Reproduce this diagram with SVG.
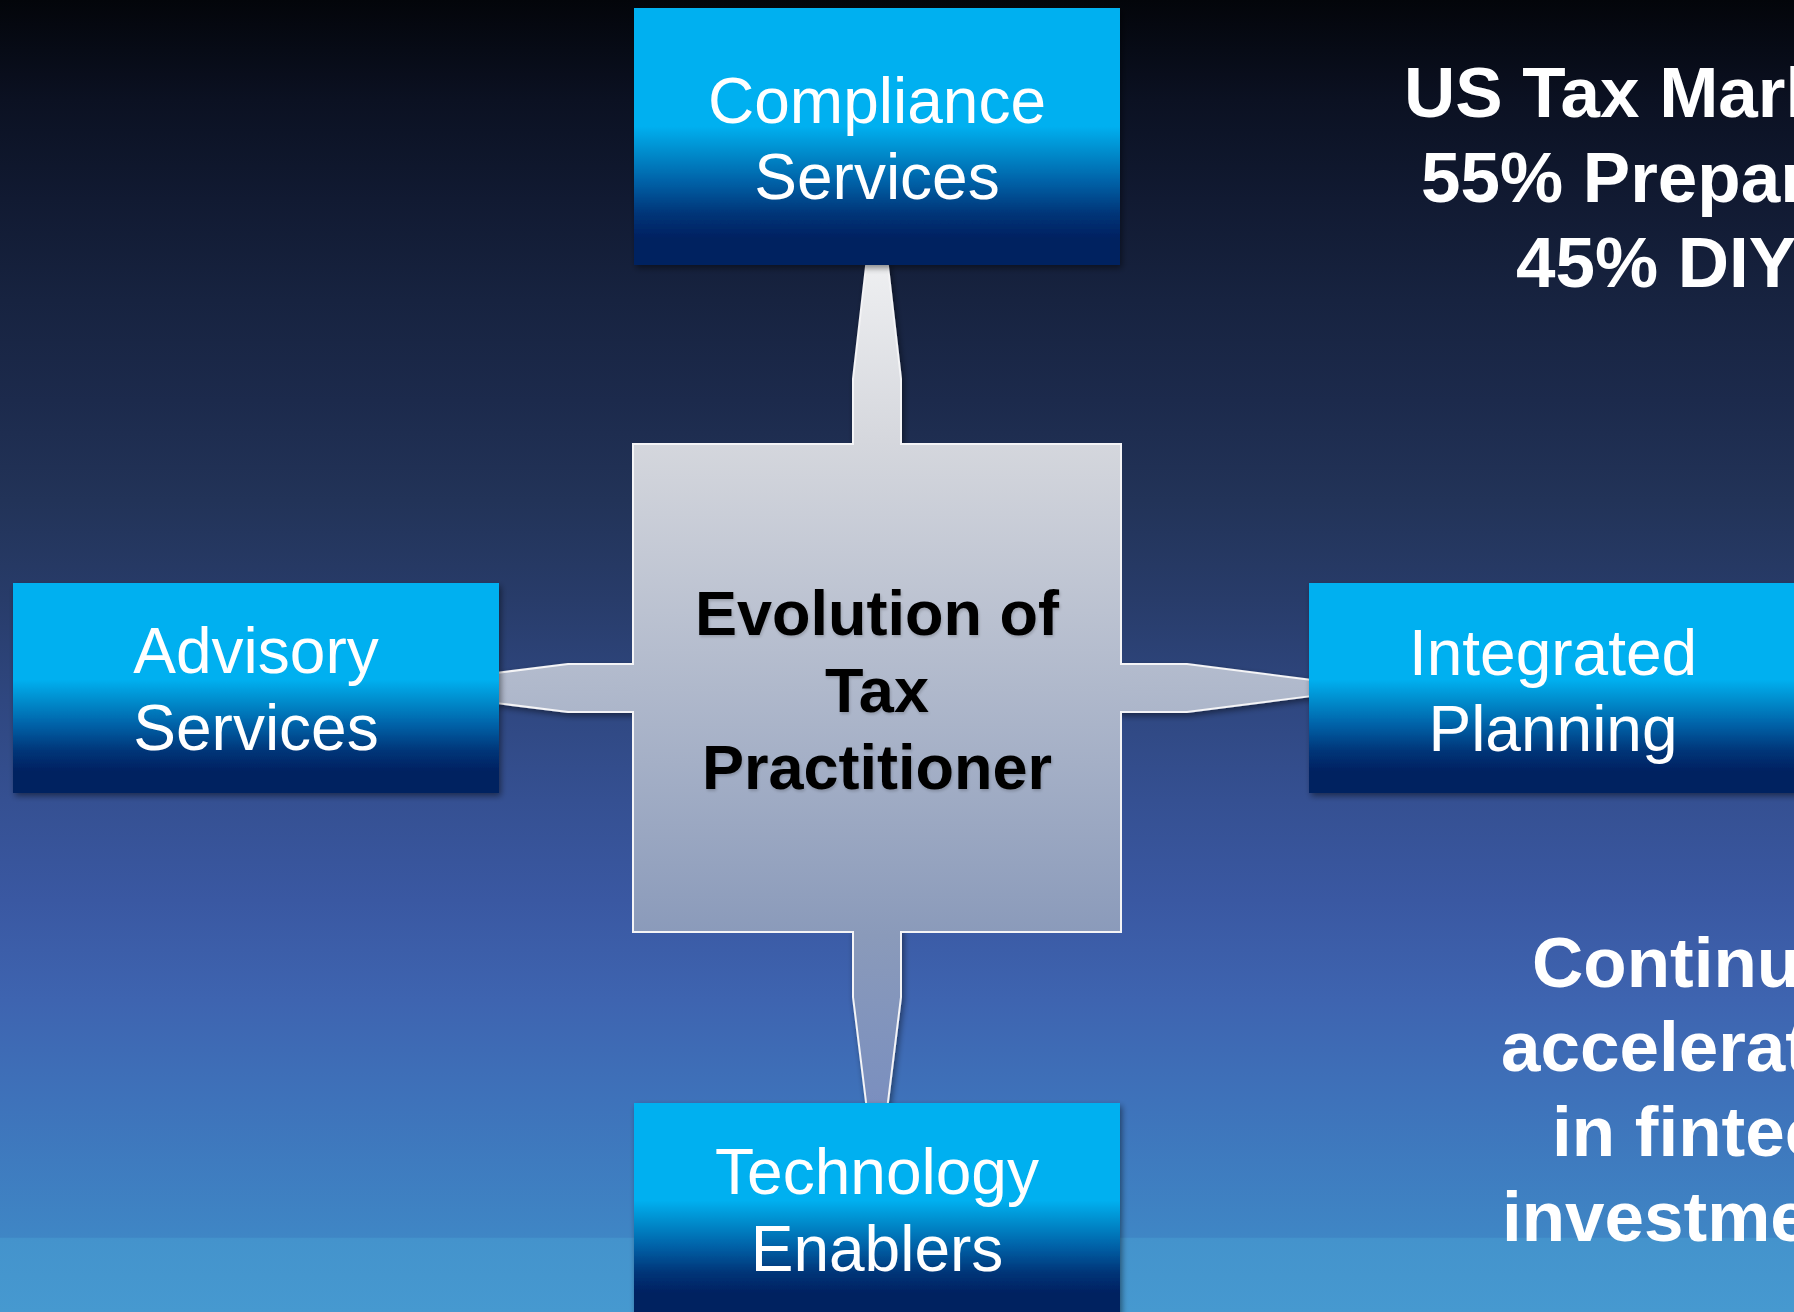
<svg xmlns="http://www.w3.org/2000/svg" width="1794" height="1312" viewBox="0 0 1794 1312">
  <defs>
    <linearGradient id="bg" gradientUnits="userSpaceOnUse" x1="0" y1="0" x2="0" y2="1312">
      <stop offset="0" stop-color="#03050a"/>
      <stop offset="0.076" stop-color="#0b1122"/>
      <stop offset="0.152" stop-color="#111a32"/>
      <stop offset="0.229" stop-color="#172340"/>
      <stop offset="0.305" stop-color="#1c2a4c"/>
      <stop offset="0.381" stop-color="#223358"/>
      <stop offset="0.457" stop-color="#283c6a"/>
      <stop offset="0.534" stop-color="#2f4780"/>
      <stop offset="0.61" stop-color="#355092"/>
      <stop offset="0.686" stop-color="#3a58a2"/>
      <stop offset="0.762" stop-color="#3e64b0"/>
      <stop offset="0.838" stop-color="#3e72ba"/>
      <stop offset="0.943" stop-color="#3f86c5"/>
      <stop offset="0.944" stop-color="#4493cc"/>
      <stop offset="1" stop-color="#4699d0"/>
    </linearGradient>
    <linearGradient id="boxg" x1="0" y1="0" x2="0" y2="1">
      <stop offset="0" stop-color="#00b0f0"/>
      <stop offset="0.46" stop-color="#00b0f0"/>
      <stop offset="0.55" stop-color="#0090d0"/>
      <stop offset="0.68" stop-color="#0060a6"/>
      <stop offset="0.80" stop-color="#003578"/>
      <stop offset="0.90" stop-color="#002060"/>
      <stop offset="1" stop-color="#002060"/>
    </linearGradient>
    <linearGradient id="starg" gradientUnits="userSpaceOnUse" x1="0" y1="265" x2="0" y2="1103">
      <stop offset="0" stop-color="#eeeff1"/>
      <stop offset="0.21" stop-color="#d5d7dd"/>
      <stop offset="0.8" stop-color="#8a9aba"/>
      <stop offset="1" stop-color="#7a8fbf"/>
    </linearGradient>
    <filter id="shadow" x="-10%" y="-10%" width="120%" height="130%">
      <feGaussianBlur in="SourceAlpha" stdDeviation="3"/>
      <feOffset dx="2" dy="3" result="o"/>
      <feComponentTransfer><feFuncA type="linear" slope="0.45"/></feComponentTransfer>
      <feMerge><feMergeNode/><feMergeNode in="SourceGraphic"/></feMerge>
    </filter>
    <filter id="tshadow" x="-10%" y="-10%" width="120%" height="130%">
      <feGaussianBlur in="SourceAlpha" stdDeviation="1.5"/>
      <feOffset dx="1" dy="2" result="o"/>
      <feComponentTransfer><feFuncA type="linear" slope="0.18"/></feComponentTransfer>
      <feMerge><feMergeNode/><feMergeNode in="SourceGraphic"/></feMerge>
    </filter>
  </defs>
  <style>
    .box { fill: url(#boxg); }
    .lbl { font-family: "Liberation Sans", Arial, sans-serif; font-size: 64px; fill: #ffffff; text-anchor: middle; }
    .ctr { font-family: "Liberation Sans", Arial, sans-serif; font-size: 63px; font-weight: bold; fill: #000000; text-anchor: middle; }
    .side { font-family: "Liberation Sans", Arial, sans-serif; font-size: 71px; font-weight: bold; fill: #ffffff; }
    .armfill { fill: url(#starg); }
    .edge { fill: none; stroke: #f4f4f6; stroke-width: 2; stroke-linecap: square; stroke-linejoin: miter; }
  </style>

  <rect x="0" y="0" width="1794" height="1312" fill="url(#bg)"/>

  <g id="connectors" filter="url(#shadow)">
    <g id="arm-top">
      <polygon class="armfill" points="853,450 853,379 866.5,265 887.5,265 901,379 901,450"/>
      <path class="edge" d="M853,444 L853,379 L866.5,262 M901,444 L901,379 L887.5,262"/>
    </g>
    <g id="arm-left">
      <polygon class="armfill" points="640,664 568,664 496,673 496,703 568,712 640,712"/>
      <path class="edge" d="M633,664 L568,664 L496,673 M633,712 L568,712 L496,703"/>
    </g>
    <g id="arm-right">
      <polygon class="armfill" points="1114,664 1187,664 1312,680 1312,696 1187,712 1114,712"/>
      <path class="edge" d="M1121,664 L1187,664 L1312,680 M1121,712 L1187,712 L1312,696"/>
    </g>
    <g id="arm-bottom">
      <polygon class="armfill" points="853,925 853,997 866.5,1106 887.5,1106 901,997 901,925"/>
      <path class="edge" d="M853,932 L853,997 L866.5,1106 M901,932 L901,997 L887.5,1106"/>
    </g>
  </g>

  <g id="node-center">
    <rect x="633" y="444" width="488" height="488" class="armfill"/>
    <path class="edge" d="M853,444 L633,444 L633,664 M633,712 L633,932 L853,932 M901,932 L1121,932 L1121,712 M1121,664 L1121,444 L901,444"/>
    <g filter="url(#tshadow)">
      <text class="ctr" x="877" y="635">Evolution of</text>
      <text class="ctr" x="877" y="712">Tax</text>
      <text class="ctr" x="877" y="789">Practitioner</text>
    </g>
  </g>

  <g id="node-compliance" filter="url(#shadow)">
    <rect class="box" x="634" y="8" width="486" height="257"/>
    <text class="lbl" x="877" y="123">Compliance</text>
    <text class="lbl" x="877" y="199">Services</text>
  </g>

  <g id="node-advisory" filter="url(#shadow)">
    <rect class="box" x="13" y="583" width="486" height="210"/>
    <text class="lbl" x="256" y="673">Advisory</text>
    <text class="lbl" x="256" y="750">Services</text>
  </g>

  <g id="node-integrated" filter="url(#shadow)">
    <rect class="box" x="1309" y="583" width="490" height="210"/>
    <text class="lbl" x="1553" y="675">Integrated</text>
    <text class="lbl" x="1553" y="751">Planning</text>
  </g>

  <g id="node-technology" filter="url(#shadow)">
    <rect class="box" x="634" y="1103" width="486" height="212"/>
    <text class="lbl" x="877" y="1194">Technology</text>
    <text class="lbl" x="877" y="1271">Enablers</text>
  </g>

  <g id="note-market">
    <text class="side" x="1404" y="117">US Tax Mark</text>
    <text class="side" x="1421" y="202">55% Prepar</text>
    <text class="side" x="1516" y="287">45% DIY</text>
  </g>

  <g id="note-fintech">
    <text class="side" x="1532" y="987">Continu</text>
    <text class="side" x="1501" y="1071">accelerat</text>
    <text class="side" x="1552" y="1156">in fintec</text>
    <text class="side" x="1502" y="1241">investme</text>
  </g>
</svg>
